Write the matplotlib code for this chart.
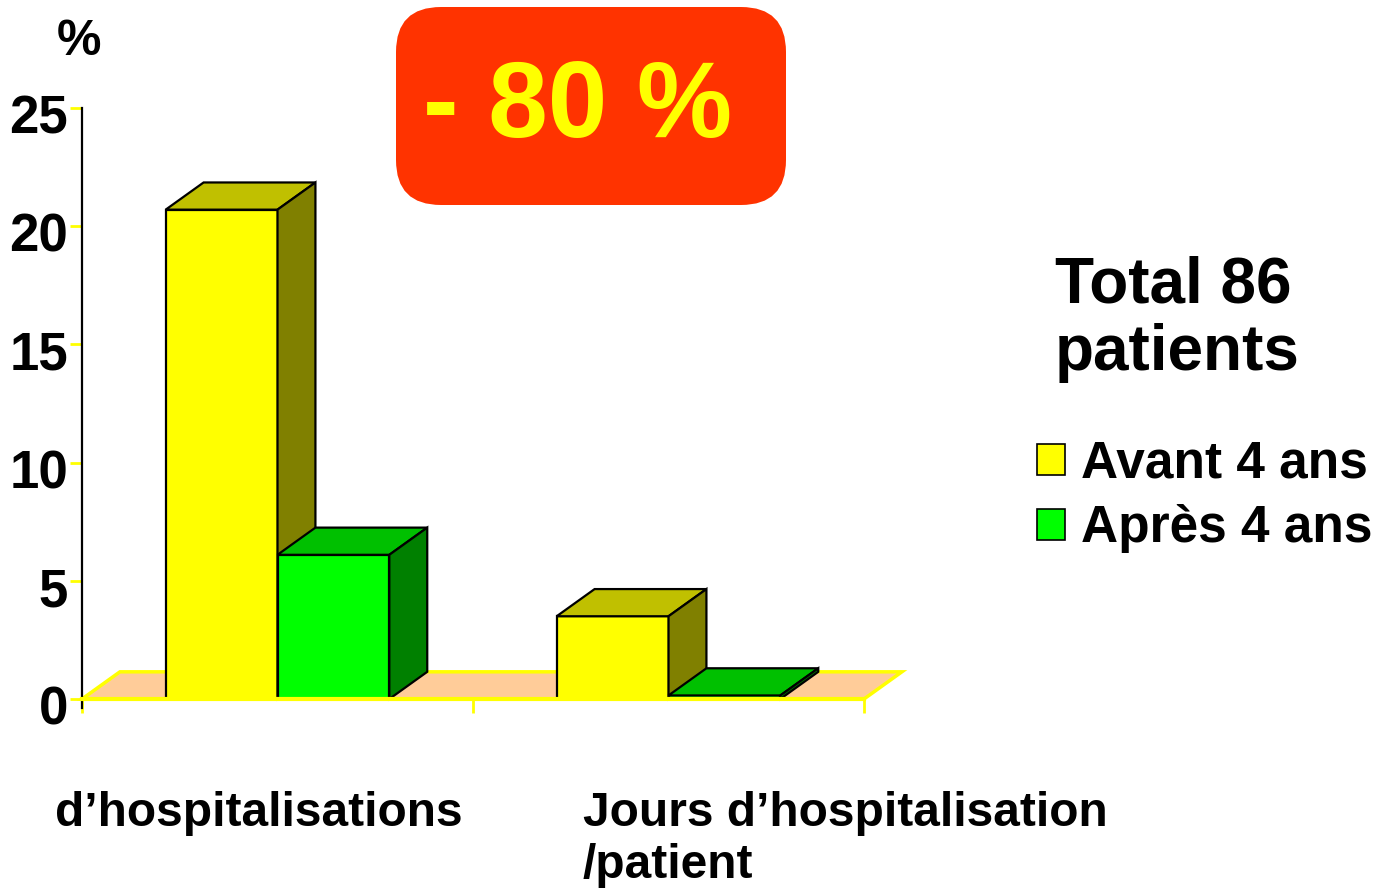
"""
Hospitalisations avant / après 4 ans - pseudo 3D bar chart
"""

import matplotlib.pyplot as plt
import matplotlib.transforms as mtransforms
from matplotlib.patches import Polygon, FancyBboxPatch, Patch

categories = ["d\u2019hospitalisations", "Jours d\u2019hospitalisation\n/patient"]
series_names = ["Avant 4 ans", "Apr\u00e8s 4 ans"]
avant = [20.7, 3.5]
apres = [6.1, 0.15]
yticks = [0, 5, 10, 15, 20, 25]
reduction_label = "- 80 %"
total_label = "Total 86\npatients"

# colours: front, top, side
YELLOW = ("#FFFF00", "#C0C000", "#808000")
GREEN = ("#00FF00", "#00C000", "#008000")
FLOOR = "#FFCC99"

BOLD = ["Liberation Sans", "DejaVu Sans"]

BAR_W = 0.286
DX, DY = 0.097, 1.15  # depth offset in data units


def draw_box(ax, x0, h, colors, z):
    """Front, top and side faces of a pseudo 3D bar."""
    x1 = x0 + BAR_W
    front = [(x0, 0), (x1, 0), (x1, h), (x0, h)]
    top = [(x0, h), (x1, h), (x1 + DX, h + DY), (x0 + DX, h + DY)]
    side = [(x1, 0), (x1 + DX, DY), (x1 + DX, h + DY), (x1, h)]
    for pts, c in zip((front, top, side), colors):
        ax.add_patch(Polygon(pts, closed=True, facecolor=c, edgecolor="black",
                             lw=1.6, joinstyle="miter", zorder=z, clip_on=False))


fig = plt.figure(figsize=(13.88, 8.9), dpi=100)
ax = fig.add_axes([82 / 1388, 191 / 890, 782 / 1388, 591 / 890])
ax.set_xlim(0, 2)
ax.set_ylim(0, 25)

# floor
ncat = len(categories)
floor = [(0, 0), (ncat, 0), (ncat + DX, DY), (DX, DY)]
ax.add_patch(Polygon(floor, closed=True, facecolor=FLOOR, edgecolor="#FFFF00",
                     lw=2.5, zorder=1, clip_on=False))

z = 3
for i in range(ncat):
    center = i + 0.5
    draw_box(ax, center - BAR_W, avant[i], YELLOW, z)
    draw_box(ax, center, apres[i], GREEN, z + 1)
    z += 2

# axes styling
for s in ("top", "right"):
    ax.spines[s].set_visible(False)
ax.spines["left"].set_color("black")
ax.spines["left"].set_linewidth(1.6)
ax.spines["left"].set_bounds(-0.4, 25)
ax.spines["left"].set_zorder(10)
ax.spines["bottom"].set_color("#FFFF00")
ax.spines["bottom"].set_linewidth(3)
ax.spines["bottom"].set_zorder(10)

ax.set_yticks(yticks)
ax.set_yticklabels([str(t) for t in yticks], fontsize=38, fontweight="bold",
                   family=BOLD)
ax.tick_params(axis="y", colors="#FFFF00", labelcolor="black", length=9,
               width=2, pad=1)
shift = mtransforms.ScaledTranslation(0, -6 / 100, fig.dpi_scale_trans)
for lab in ax.get_yticklabels():
    lab.set_transform(lab.get_transform() + shift)
ax.set_xticks(range(ncat + 1))
ax.set_xticklabels([])
ax.tick_params(axis="x", colors="#FFFF00", length=10, width=2)

fig.text(57 / 1388, 1 - 55 / 890, "%", fontsize=36, fontweight="bold",
         family=BOLD, ha="left", va="baseline")

# category labels (baseline of the last line)
label_pos = [(55, 826), (583, 878)]
for (px, py), lab in zip(label_pos, categories):
    fig.text(px / 1388, 1 - py / 890, lab, fontsize=34.5, fontweight="bold",
             family=BOLD, ha="left", va="baseline", linespacing=1.2)

# reduction badge
badge = FancyBboxPatch((436 / 1388, 1 - 165 / 890), 310 / 1388, 118 / 890,
                       boxstyle="round,pad=0,rounding_size=0.045",
                       transform=fig.transFigure, facecolor="#FF3300",
                       edgecolor="none", mutation_aspect=1388 / 890)
badge.set_boxstyle("round", pad=40 / 1388, rounding_size=45 / 1388)
fig.patches.append(badge)
fig.text(578 / 1388, 1 - 137 / 890, reduction_label, fontsize=77,
         fontweight="bold", family=BOLD, color="#FFFF00", ha="center",
         va="baseline")

fig.text(1055 / 1388, 1 - 370 / 890, total_label, fontsize=46,
         fontweight="bold", family=BOLD, ha="left", va="baseline",
         linespacing=1.15)

handles = [Patch(facecolor=YELLOW[0], edgecolor="black", lw=1.2),
           Patch(facecolor=GREEN[0], edgecolor="black", lw=1.2)]
fig.legend(handles, series_names, loc="upper left",
           bbox_to_anchor=(1037 / 1388, 1 - 440 / 890), frameon=False,
           prop={"family": BOLD, "weight": "bold", "size": 37},
           handlelength=0.55, handleheight=0.55, handletextpad=0.3,
           labelspacing=0.3, borderaxespad=0, borderpad=0)

fig.savefig("out.png", dpi=100)
